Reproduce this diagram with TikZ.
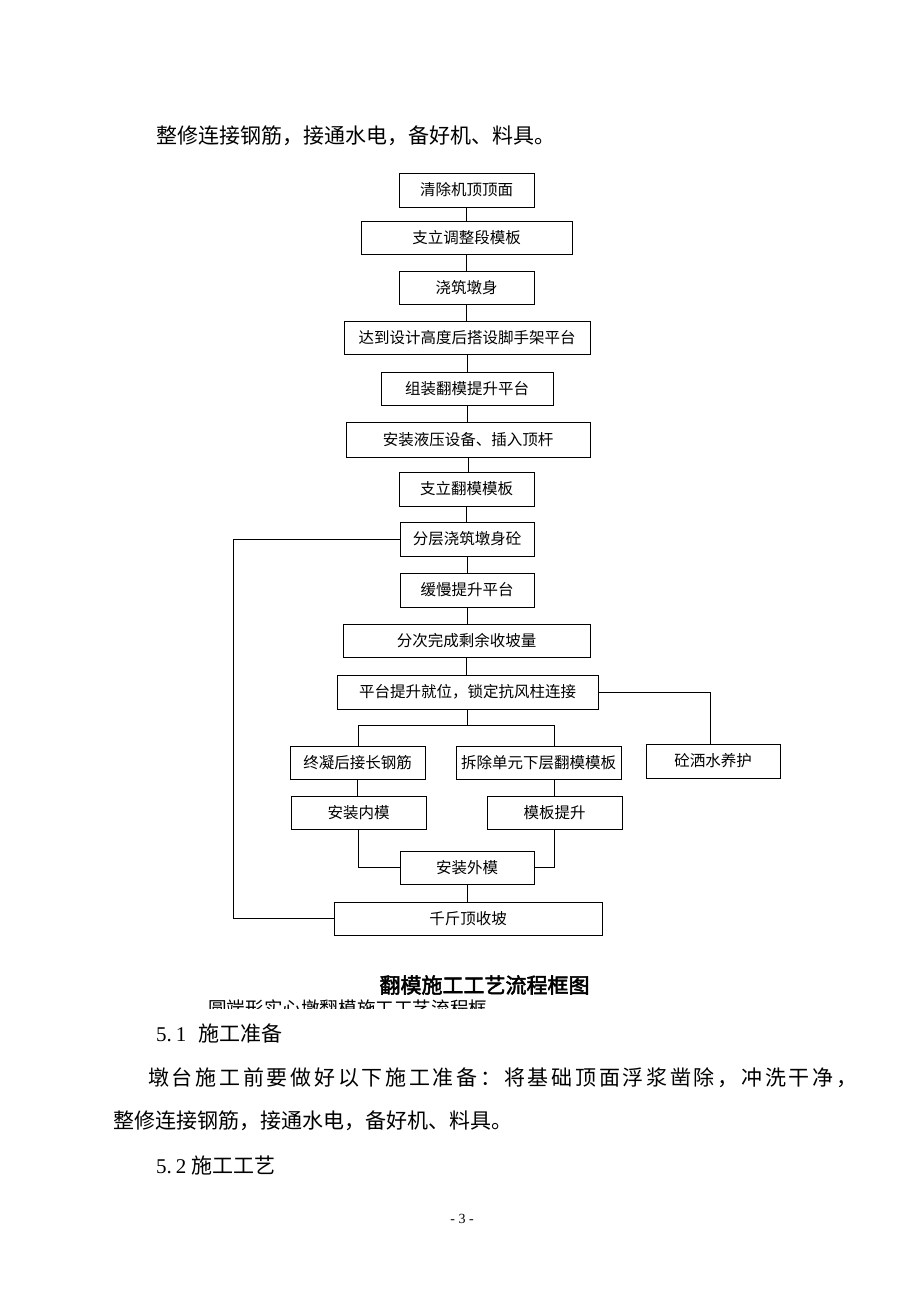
\documentclass[tikz,border=0pt]{standalone}
\usepackage{fontspec}
\setmainfont{Liberation Serif}
\newfontfamily\cjk{Noto Sans CJK SC}
\newfontfamily\cjkb[FakeBold=2.5]{Noto Sans CJK SC}
\newfontfamily\cjkls[LetterSpace=13]{Noto Sans CJK SC}
\newcommand\mybox[6]{\node[box, minimum width={#4pt-#2pt}, minimum height={#5pt-#3pt}] (#1) at ({(#2+#4)/2},{(#3+#5)/2}) {#6};}
\tikzset{
  box/.style={draw, line width=1pt, inner sep=0pt, font=\cjk\fontsize{15.5}{18}\selectfont},
  ln/.style={line width=1pt},
  body/.style={inner sep=0pt, anchor=base west, font=\cjk\fontsize{21}{25}\selectfont},
  num/.style={inner sep=0pt, anchor=base west, font=\fontsize{21}{25}\selectfont}
}
\begin{document}
\begin{tikzpicture}[x=1pt,y=-1pt]
\useasboundingbox (0,0) rectangle (920,1302);
\fill[white] (0,0) rectangle (920,1302);
% top text
\node[body] (t1) at (156,143.5) {整修连接钢筋，接通水电，备好机、料具。};
% boxes
\mybox{b1}{399}{173}{534}{207}{清除机顶顶面}
\mybox{b2}{361}{221}{572}{254}{支立调整段模板}
\mybox{b3}{399}{271}{534}{304}{浇筑墩身}
\mybox{b4}{344}{321}{590}{354}{达到设计高度后搭设脚手架平台}
\mybox{b5}{381}{372}{553}{405}{组装翻模提升平台}
\mybox{b6}{346}{422}{590}{457}{安装液压设备、插入顶杆}
\mybox{b7}{399}{472}{534}{506}{支立翻模模板}
\mybox{b8}{400}{522}{534}{556}{分层浇筑墩身砼}
\mybox{b9}{400}{573}{534}{607}{缓慢提升平台}
\mybox{b10}{343}{624}{590}{657}{分次完成剩余收坡量}
\mybox{b11}{337}{675}{598}{709}{平台提升就位，锁定抗风柱连接}
\mybox{b12}{646}{744}{780}{778}{砼洒水养护}
\mybox{b13}{290}{746}{425}{779}{终凝后接长钢筋}
\mybox{b14}{456}{746}{621}{779}{拆除单元下层翻模模板}
\mybox{b15}{291}{796}{426}{829}{安装内模}
\mybox{b16}{487}{796}{622}{829}{模板提升}
\mybox{b17}{400}{851}{534}{884}{安装外模}
\mybox{b18}{334}{902}{602}{935}{千斤顶收坡}
% coordinates
\coordinate (L) at (233,539);
\coordinate (R) at (710,691);
\coordinate (S) at (467,725);
\coordinate (SL) at (358,725);
\coordinate (SR) at (554,725);
% main chain
\foreach \a/\b in {b1/b2,b2/b3,b3/b4,b4/b5,b5/b6,b6/b7,b7/b8,b8/b9,b9/b10,b10/b11}
  \draw[ln] (\a.south) -- (\a.south |- \b.north);
% loop back
\draw[ln] (b8.west) -- (b8.west -| L) -- (b18.west -| L) -- (b18.west);
% right branch
\draw[ln] (b11.east) -- (b11.east -| R) -- (R |- b12.north);
% split
\draw[ln] (b11.south) -- (b11.south |- S);
\draw[ln] (SL) -- (SR);
\draw[ln] (SL) -- (SL |- b13.north);
\draw[ln] (SR) -- (SR |- b14.north);
\draw[ln] (b13.south) -- (b13.south |- b15.north);
\draw[ln] (b16.north) -- (b16.north |- b14.south);
\draw[ln] (b15.south) |- (b17.west);
\draw[ln] (b16.south) |- (b17.east);
\draw[ln] (b17.south) -- (b17.south |- b18.north);
% caption
\node[inner sep=0pt, anchor=base, font=\cjkb\fontsize{21}{25}\selectfont] (cap) at (484.5,993) {翻模施工工艺流程框图};
\begin{scope}
  \clip (200,990) rectangle (520,1008);
  \node[inner sep=0pt, anchor=base west, font=\cjk\fontsize{18.6}{22}\selectfont] (cap2) at (208,1015) {圆端形实心墩翻模施工工艺流程框};
\end{scope}
% body text
\node[num] (n51) at (156,1041) {5.\hspace{4pt}1};
\node[body] (h51) at (198,1041) {施工准备};
\node[inner sep=0pt, anchor=base west, font=\cjkls\fontsize{21}{25}\selectfont] (p1) at (148,1085) {墩台施工前要做好以下施工准备：将基础顶面浮浆凿除，冲洗干净，};
\node[body] (p2) at (113,1128) {整修连接钢筋，接通水电，备好机、料具。};
\node[num] (n52) at (156,1173) {5.\hspace{4pt}2};
\node[body] (h52) at (191,1173) {施工工艺};
\node[inner sep=0pt, anchor=base, font=\fontsize{14}{16}\selectfont] (pg) at (462,1223) {- 3 -};
\end{tikzpicture}
\end{document}
